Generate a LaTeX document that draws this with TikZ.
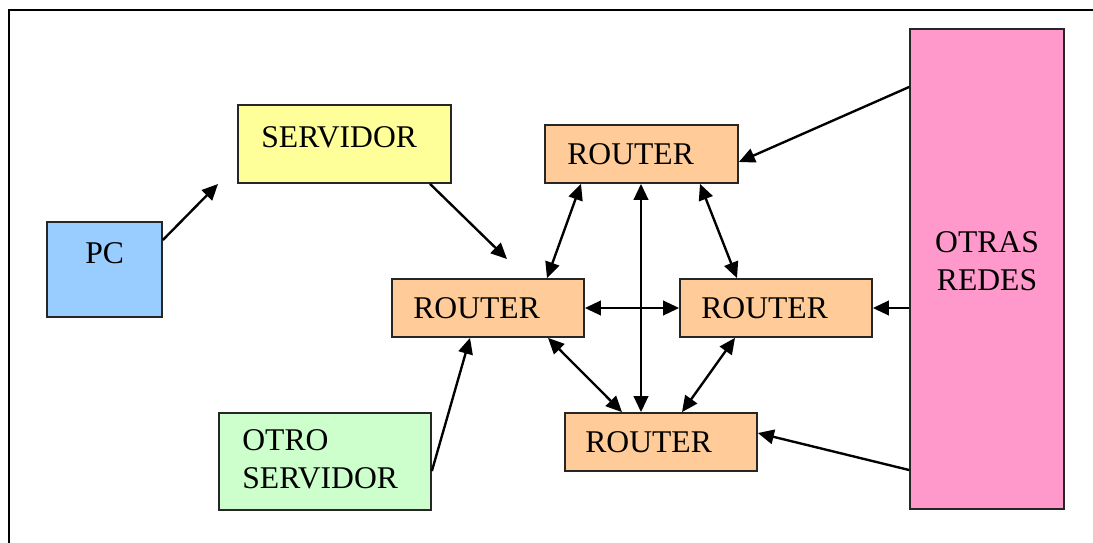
\documentclass[tikz,border=0pt]{standalone}
\usepackage{fontspec}
\setmainfont{Liberation Serif}
\usetikzlibrary{arrows.meta,fit}
\definecolor{pcblue}{HTML}{99CCFF}
\definecolor{srvyellow}{HTML}{FFFF99}
\definecolor{routerorange}{HTML}{FFCC99}
\definecolor{otrogreen}{HTML}{CCFFCC}
\definecolor{redespink}{HTML}{FF99CC}
\tikzset{
	box/.style={draw=black!85, line width=1pt, inner sep=0pt},
	lbl/.style={inner sep=0pt, anchor=base west, font=\fontsize{18}{21.5}\selectfont},
	tip/.tip={Triangle[length=0.32cm,width=0.29cm]},
	link/.style={line width=1.35pt, -tip},
	both/.style={line width=1.35pt, tip-tip}
}
\begin{document}
\begin{tikzpicture}[x=0.02cm, y=-0.02cm]
		\useasboundingbox (0,0) rectangle (1093,542);
		\draw[line width=1.3pt] (9,10) rectangle (1120,570);
		% boxes
		\node[box, fill=pcblue, fit={(47,222) (162,317)}] (pc) {};
		\node[box, fill=srvyellow, fit={(238,105) (451,183)}] (srv) {};
		\node[box, fill=routerorange, fit={(545,125) (738,183)}] (rtop) {};
		\node[box, fill=routerorange, fit={(392,279) (584,337)}] (rml) {};
		\node[box, fill=routerorange, fit={(680,279) (872,337)}] (rmr) {};
		\node[box, fill=routerorange, fit={(565,413) (757,471)}] (rbot) {};
		\node[box, fill=otrogreen, fit={(219,413) (431,510)}] (otro) {};
		\node[box, fill=redespink, fit={(910,29) (1064,509)}] (redes) {};
		% labels (base of a two-line label is its last line)
		\node[lbl] (pc-t) at (85,263) {PC};
		\node[lbl] (srv-t) at (261,147) {SERVIDOR};
		\node[lbl] (rtop-t) at (567,164) {ROUTER};
		\node[lbl] (rml-t) at (413,318) {ROUTER};
		\node[lbl] (rmr-t) at (701,318) {ROUTER};
		\node[lbl] (rbot-t) at (585,452) {ROUTER};
		\node[lbl, align=left] (otro-t) at (242,488) {OTRO\\SERVIDOR};
		\node[lbl, anchor=base, align=center] (redes-t) at (987,290) {OTRAS\\REDES};
		% connections
		\coordinate (pc-end) at (218,184);
		\coordinate (srv-end) at (507,259);
		\draw[link] (pc.east |- 0,240) -- (pc-end);
		\draw[link] (srv.south -| 430,0) -- (srv-end);
		\draw[link] (otro.east |- 0,471) -- (rml.south -| 470,0);
		\draw[both] (rtop.south -| 581,0) -- (rml.north -| 547,0);
		\draw[both] (rtop.south -| 700,0) -- (rmr.north -| 737,0);
		\draw[both] (rbot.north -| 641,0) -- (rtop.south -| 641,0);
		\draw[both] (rml.east) -- (rmr.west);
		\draw[both] (rml.south -| 548,0) -- (rbot.north -| 622,0);
		\draw[both] (rmr.south -| 735,0) -- (rbot.north -| 682,0);
		\draw[link] (redes.west |- 0,87) -- (rtop.east |- 0,162);
		\draw[link] (redes.west |- rmr.east) -- (rmr.east);
		\draw[link] (redes.west |- 0,470) -- (rbot.east |- 0,433);
	\end{tikzpicture}
\end{document}
